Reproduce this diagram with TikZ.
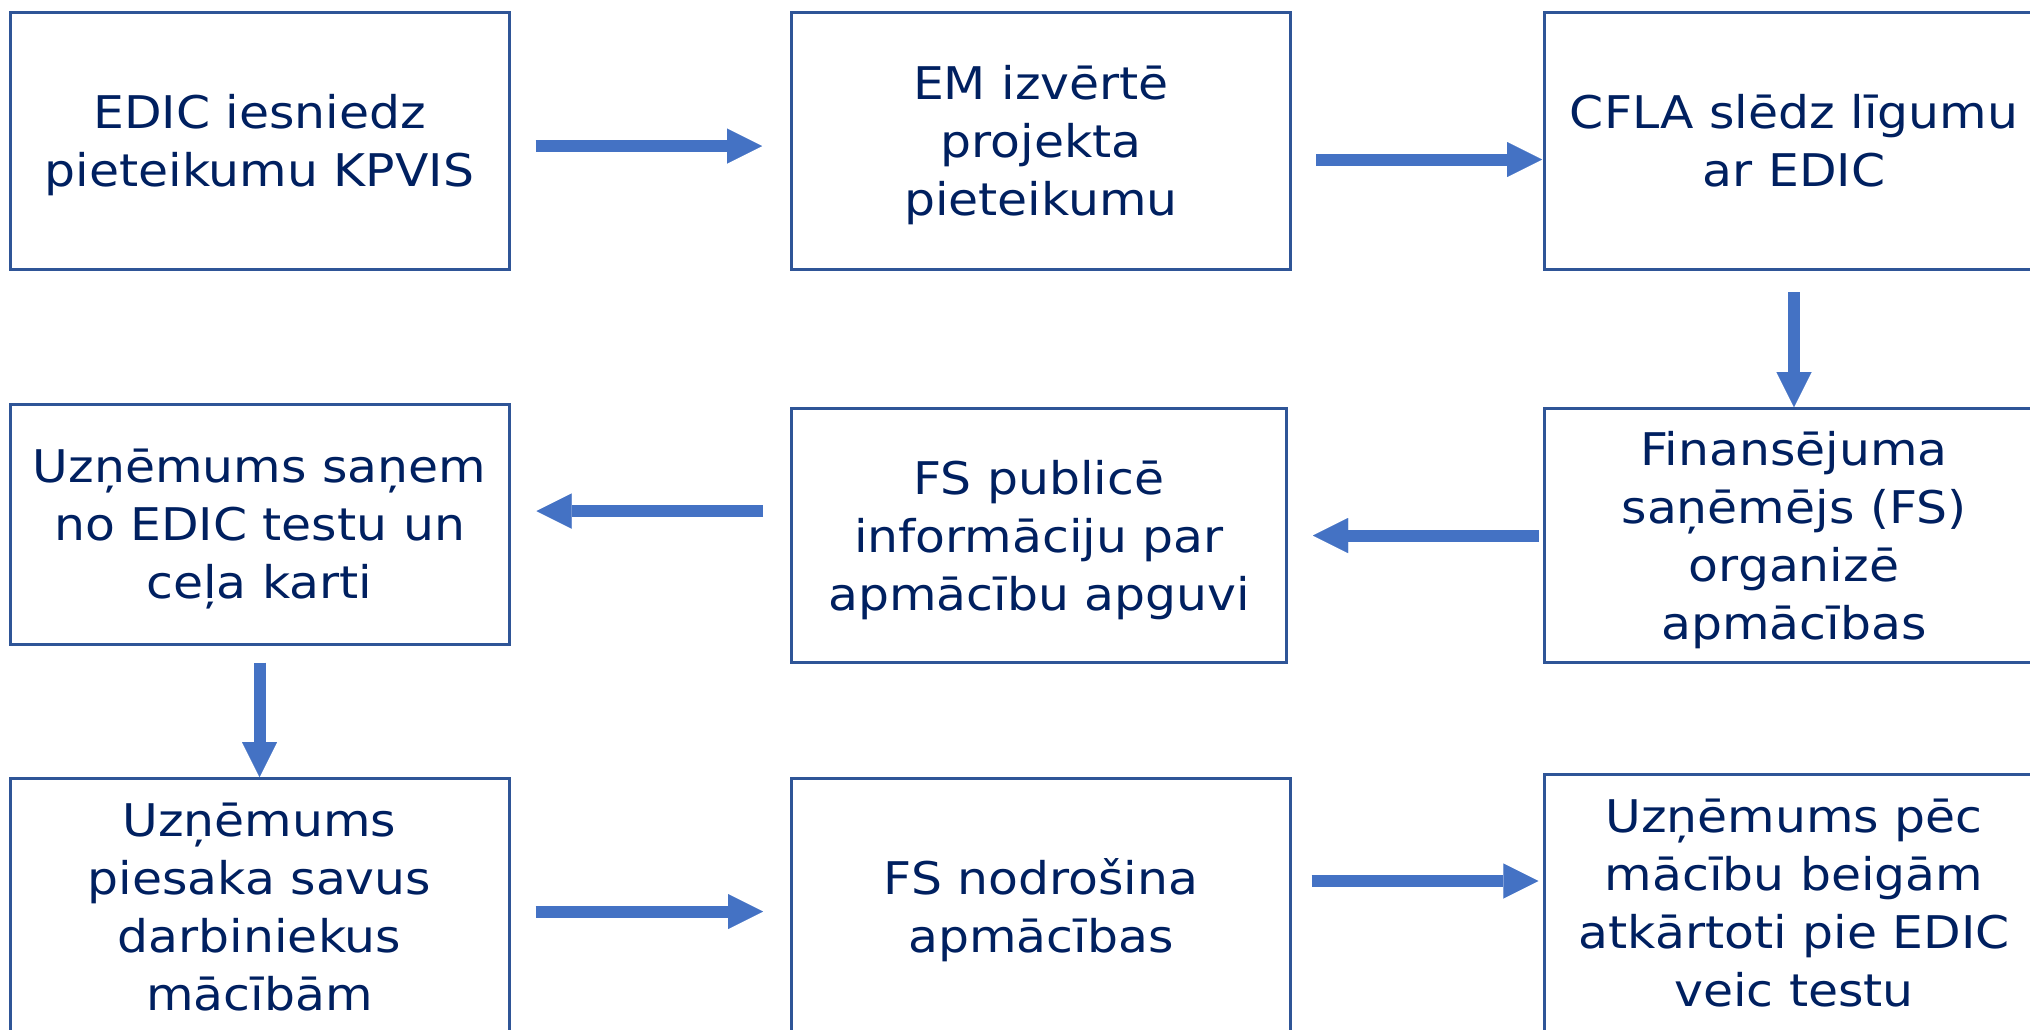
\documentclass[tikz,border=0pt]{standalone}
\usepackage{fontspec}
\setmainfont{DejaVu Sans}[FakeStretch=1.085]
\usetikzlibrary{arrows.meta}
\definecolor{txt}{HTML}{002060}
\definecolor{bord}{HTML}{2F5597}
\definecolor{arrc}{HTML}{4472C4}
\newcommand\tstr{\rule[-12pt]{0pt}{57pt}}
\begin{document}
\begin{tikzpicture}[x=1pt,y=-1pt,
  stepbox/.style={draw=bord, line width=3pt, fill=white, text=txt, align=center,
    font=\fontsize{45}{58}\selectfont, inner sep=0pt,
    minimum width=499pt, minimum height=257pt},
  conn/.style={draw=arrc, line width=12pt,
    -{Triangle[length=35pt,width=35pt,line width=0.01pt]}}]
\useasboundingbox (0,0) rectangle (2030,1029);
% row 1
\node[stepbox] (b1) at (259.5,141) {\tstr EDIC iesniedz\\pieteikumu KPVIS\tstr};
\node[stepbox] (b2) at (1041,141) {\tstr EM izvērtē\\projekta\\pieteikumu\tstr};
\node[stepbox] (b3) at (1794,141) {\tstr CFLA slēdz līgumu\\ar EDIC\tstr};
% row 2
\node[stepbox, minimum height=254pt] (b4) at (1794,535.6) {\tstr Finansējuma\\saņēmējs (FS)\\organizē\\apmācības\tstr};
\node[stepbox, minimum height=254pt, minimum width=495pt] (b5) at (1039,535.6) {\tstr FS publicē\\informāciju par\\apmācību apguvi\tstr};
\node[stepbox, minimum height=240pt] (b6) at (259.5,524.2) {\tstr Uzņēmums saņem\\no EDIC testu un\\ceļa karti\tstr};
% row 3
\node[stepbox] (b7) at (259.5,907) {\tstr Uzņēmums\\piesaka savus\\darbiniekus\\mācībām\tstr};
\node[stepbox] (b8) at (1041,907) {\tstr FS nodrošina\\apmācības\tstr};
\node[stepbox, minimum height=258pt] (b9) at (1794,903.4) {\tstr Uzņēmums pēc\\mācību beigām\\atkārtoti pie EDIC\\veic testu\tstr};
% connectors
\draw[conn, shorten <=25pt, shorten >=28pt] ([yshift=-5pt]b1.east) -- ([yshift=-5pt]b2.west);
\draw[conn, shorten <=24pt, shorten >=1pt] ([yshift=-18.5pt]b2.east) -- ([yshift=-18.5pt]b3.west);
\draw[conn, shorten <=21pt] (b3.south) -- (b4.north);
\draw[conn, shorten <=4.5pt, shorten >=25pt] (b4.west) -- (b5.east);
\draw[conn, shorten <=27pt, shorten >=26pt] ([yshift=24.6pt]b5.west) -- ([yshift=13.2pt]b6.east);
\draw[conn, shorten <=17pt] (b6.south) -- (b7.north);
\draw[conn, shorten <=25pt, shorten >=27pt] ([yshift=-4.5pt]b7.east) -- ([yshift=-4.5pt]b8.west);
\draw[conn, shorten <=19.7pt, shorten >=4.6pt] ([yshift=26pt]b8.east) -- ([yshift=22.4pt]b9.west);
\end{tikzpicture}
\end{document}
